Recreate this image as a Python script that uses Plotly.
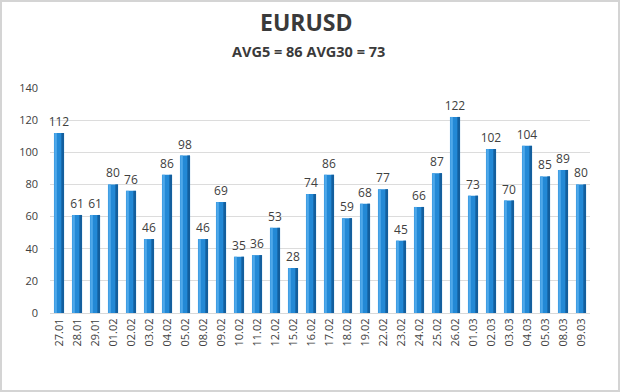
import plotly.graph_objects as go

dates = ["27.01","28.01","29.01","01.02","02.02","03.02","04.02","05.02","08.02","09.02",
         "10.02","11.02","12.02","15.02","16.02","17.02","18.02","19.02","22.02","23.02",
         "24.02","25.02","26.02","01.03","02.03","03.03","04.03","05.03","08.03","09.03"]
values = [112,61,61,80,76,46,86,98,46,69,35,36,53,28,74,86,59,68,77,45,66,87,122,73,102,70,104,85,89,80]
y_ticks = [0,20,40,60,80,100,120,140]
title = "EURUSD"
subtitle = "AVG5 = 86 AVG30 = 73"

W, H = 620, 392
L, R, T, B = 50, 30, 88, 79

fig = go.Figure()
# main bar face
fig.add_trace(go.Bar(x=dates, y=values, width=0.56, offset=-0.28,
                     marker=dict(color="#2389d6", line=dict(width=0)),
                     text=values, textposition="outside", cliponaxis=False,
                     constraintext="none",
                     textfont=dict(size=12, color="#404040", family="Open Sans"),
                     hoverinfo="skip"))
# left highlight
fig.add_trace(go.Bar(x=dates, y=values, width=0.14, offset=-0.26,
                     marker=dict(color="#4fa9ea", line=dict(width=0)), hoverinfo="skip"))
# right dark side
fig.add_trace(go.Bar(x=dates, y=values, width=0.15, offset=0.13,
                     marker=dict(color="#135f9e", line=dict(width=0)), hoverinfo="skip"))

# frame around the image
pw, ph = W - L - R, H - T - B
def px(x): return (x - L) / pw
def py(y): return (H - B - y) / ph
fig.add_shape(type="rect", xref="paper", yref="paper",
              x0=px(1), x1=px(W - 1), y0=py(H - 1), y1=py(1),
              line=dict(color="#d4d4d4", width=2), fillcolor="rgba(0,0,0,0)", layer="below")

fig.add_annotation(text=title, xref="paper", yref="paper", x=px(306), y=py(22),
                   showarrow=False, xanchor="center", yanchor="middle",
                   font=dict(size=23, color="#3a3a3a", family="Open Sans", weight="bold"))
fig.add_annotation(text=subtitle, xref="paper", yref="paper", x=px(308), y=py(51),
                   showarrow=False, xanchor="center", yanchor="middle",
                   font=dict(size=14.5, color="#3a3a3a", family="Open Sans", weight="bold"))

fig.update_layout(
    width=W, height=H, margin=dict(l=L, r=R, t=T, b=B),
    paper_bgcolor="white", plot_bgcolor="white",
    barmode="overlay", showlegend=False,
    font=dict(family="Open Sans", color="#404040"),
    xaxis=dict(type="category", tickangle=-90, tickfont=dict(size=11, color="#404040"),
               showgrid=False, showline=True, linecolor="#d9d9d9", ticks="",
               range=[-0.5, 29.5]),
    yaxis=dict(range=[0, 140], tickvals=y_ticks, tickfont=dict(size=11, color="#404040"),
               showgrid=True, gridcolor="#dcdcdc", zeroline=False, showline=False,
               ticks="", ticklabelstandoff=11),
)

fig.write_html("out.html", config={"displayModeBar": False},
               post_script="document.body.style.margin='0';document.body.style.padding='0';")
